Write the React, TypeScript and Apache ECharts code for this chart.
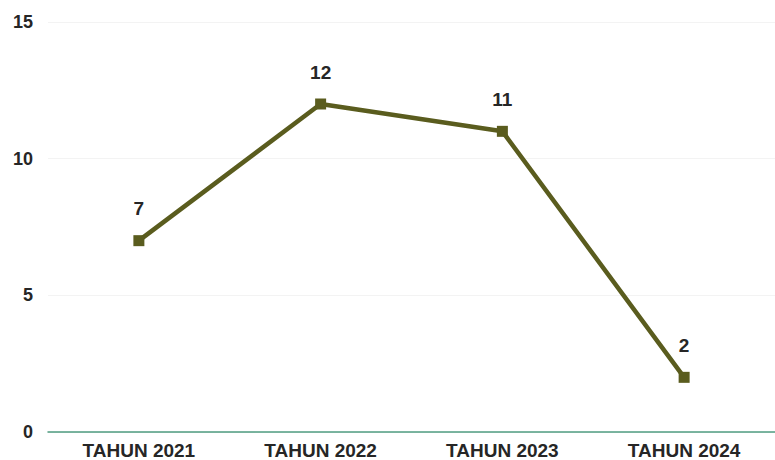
import React, { useEffect, useRef } from "react";
import * as echarts from "echarts";

const categories = ["TAHUN 2021", "TAHUN 2022", "TAHUN 2023", "TAHUN 2024"];
const values = [7, 12, 11, 2];
const yTicks = [0, 5, 10, 15];

export default function App() {
  const ref = useRef<HTMLDivElement>(null);
  useEffect(() => {
    if (!ref.current) return;
    const chart = echarts.init(ref.current, null, { renderer: "svg" });
    chart.setOption({
      animation: false,
      backgroundColor: "#ffffff",
      grid: { left: 48, right: -5, top: 22, bottom: 28, containLabel: false },
      xAxis: {
        type: "category",
        data: categories,
        boundaryGap: true,
        axisLine: { show: true, lineStyle: { color: "#4f9c80", width: 1.5 } },
        axisTick: { show: false },
        axisLabel: {
          color: "#262626",
          fontFamily: "Liberation Sans, Arial, sans-serif",
          fontWeight: "bold",
          fontSize: 19,
          margin: 9,
        },
        splitLine: { show: false },
      },
      yAxis: {
        type: "value",
        min: yTicks[0],
        max: yTicks[yTicks.length - 1],
        interval: 5,
        axisLine: { show: false },
        axisTick: { show: false },
        axisLabel: {
          color: "#262626",
          fontFamily: "Liberation Sans, Arial, sans-serif",
          fontWeight: "bold",
          fontSize: 18,
          margin: 15,
        },
        splitLine: { show: true, lineStyle: { color: "#f3f3f3", width: 1 } },
      },
      series: [
        {
          type: "line",
          data: values,
          symbol: "rect",
          symbolSize: 11,
          lineStyle: { color: "#5a5c1e", width: 4.5 },
          itemStyle: { color: "#5a5c1e" },
          label: {
            show: true,
            position: "top",
            distance: 17,
            color: "#262626",
            fontFamily: "Liberation Sans, Arial, sans-serif",
            fontWeight: "bold",
            fontSize: 19,
          },
        },
      ],
    });
    return () => chart.dispose();
  }, []);
  return <div ref={ref} style={{ width: 775, height: 460, position: "fixed", left: 0, top: 0 }} />;
}
